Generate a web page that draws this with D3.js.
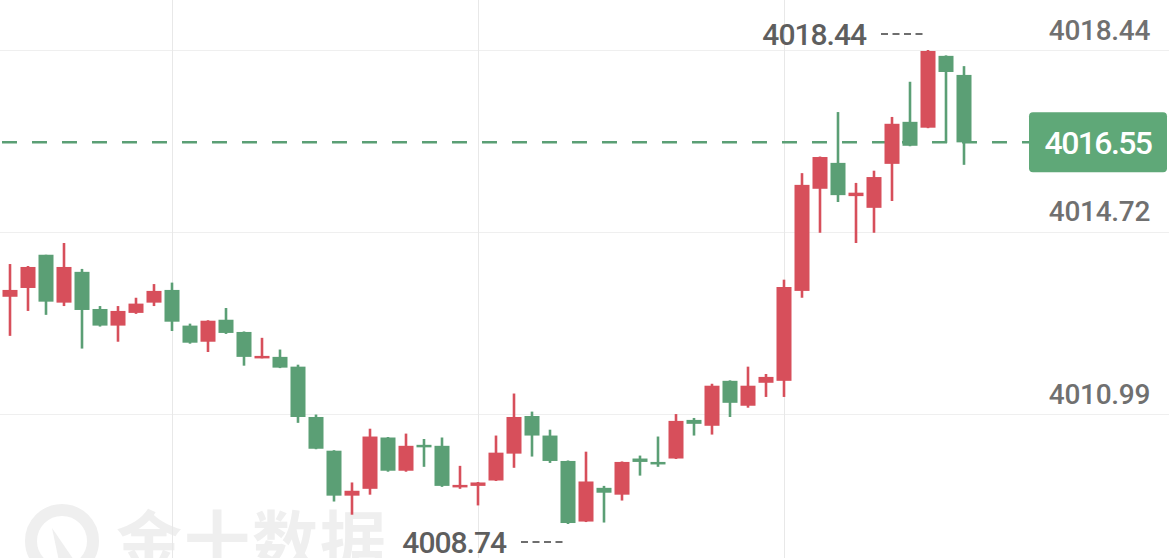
<!DOCTYPE html>
<html>
<head>
<meta charset="utf-8">
<script src="https://cdn.jsdelivr.net/npm/d3@7"></script>
<style>
  html, body { margin: 0; padding: 0; background: #ffffff; }
  svg { display: block; }
</style>
</head>
<body>
<svg id="chart" width="1169" height="558"></svg>
<script>
// ---------- DATA ----------
const candleIndex = d3.range(54);
const open = [4013.39,4013.57,4014.25,4013.27,4013.90,4013.14,4012.80,4013.06,4013.27,4013.53,
4012.80,4012.47,4012.92,4012.67,4012.14,4012.16,4011.96,4010.93,4010.24,4009.32,
4009.46,4010.51,4009.83,4010.36,4010.34,4009.50,4009.52,4009.63,4010.18,4010.95,
4010.55,4010.03,4008.79,4009.48,4009.34,4010.08,4010.01,4010.08,4010.87,4010.75,
4011.67,4011.16,4011.63,4011.67,4013.51,4015.60,4016.13,4015.45,4015.21,4016.11,
4016.97,4016.85,4018.32,4017.93];
const high = [4014.06,4014.02,4014.25,4014.49,4013.96,4013.20,4013.20,4013.37,4013.65,4013.68,
4012.84,4012.91,4013.16,4012.68,4012.55,4012.31,4012.00,4010.98,4010.25,4009.59,
4010.69,4010.52,4010.59,4010.48,4010.51,4009.93,4009.60,4010.55,4011.41,4011.04,
4010.67,4010.04,4010.22,4009.52,4010.02,4010.14,4010.53,4010.99,4010.91,4011.61,
4011.68,4011.96,4011.81,4013.74,4015.92,4016.26,4017.17,4015.72,4015.97,4017.07,
4017.79,4018.44,4018.33,4018.11];
const low = [4012.59,4013.10,4013.02,4013.20,4012.33,4012.78,4012.47,4013.04,4013.20,4012.69,
4012.43,4012.26,4012.63,4011.98,4012.13,4011.93,4010.81,4010.27,4009.20,4008.93,
4009.34,4009.81,4009.81,4009.91,4009.50,4009.46,4009.12,4009.62,4009.89,4010.12,
4009.99,4008.74,4008.78,4008.77,4009.22,4009.73,4009.91,4010.07,4010.55,4010.57,
4010.93,4011.12,4011.34,4011.34,4013.37,4014.70,4015.33,4014.49,4014.70,4015.35,
4016.47,4016.84,4016.54,4016.09];
const close = [4013.53,4014.00,4013.29,4014.00,4013.12,4012.80,4013.10,4013.25,4013.51,4012.88,
4012.45,4012.90,4012.65,4012.16,4012.18,4011.94,4010.93,4010.28,4009.32,4009.42,
4010.53,4009.83,4010.34,4010.32,4009.52,4009.54,4009.59,4010.20,4010.93,4010.55,
4010.03,4008.76,4009.61,4009.38,4010.01,4010.01,4009.99,4010.85,4010.79,4011.57,
4011.22,4011.57,4011.75,4013.59,4015.68,4016.25,4015.47,4015.52,4015.84,4016.93,
4016.48,4018.42,4017.99,4016.55];
const tickValues = [4018.44, 4014.72, 4010.99];
const tickLabels = ["4018.44", "4014.72", "4010.99"];
const verticalGridAt = [9, 26, 43];
const lastPrice = 4016.55;
const lastPriceLabel = "4016.55";
const watermarkText = "金十数据";

// ---------- STYLE ----------
const W = 1169, H = 558;
const UP = "#d74f5b", DOWN = "#5b9f75";
const svg = d3.select("#chart");

const x = d3.scaleLinear().domain([0, 53]).range([10, 964]);
const y = d3.scaleLinear().domain([4008.74, 4018.44]).range([524, 50]);
const bodyW = 15;

const data = candleIndex.map(i => ({i, o: open[i], h: high[i], l: low[i], c: close[i]}));

// watermark
const wm = svg.append("g").attr("fill", "#efefef");
wm.append("circle").attr("cx", 62).attr("cy", 541).attr("r", 31)
  .attr("fill", "none").attr("stroke", "#efefef").attr("stroke-width", 12);
wm.append("path").attr("d", "M52,528 L78,566 L60,566 Z");
wm.append("text").attr("x", 116).attr("y", 566)
  .attr("font-family", "'Noto Sans CJK SC'").attr("font-weight", 700)
  .attr("font-size", 66).attr("letter-spacing", 2).text(watermarkText);

// horizontal grid
svg.append("g").selectAll("line").data(tickValues).join("line")
  .attr("x1", 0).attr("x2", W)
  .attr("y1", d => Math.round(y(d)) + 0.5).attr("y2", d => Math.round(y(d)) + 0.5)
  .attr("stroke", "#efefef").attr("stroke-width", 1.2);

// vertical grid
svg.append("g").selectAll("line").data(verticalGridAt).join("line")
  .attr("x1", d => Math.round(x(d)) + 0.5).attr("x2", d => Math.round(x(d)) + 0.5)
  .attr("y1", 0).attr("y2", H)
  .attr("stroke", "#e8e8e8").attr("stroke-width", 1);

// right axis labels
const axis = d3.axisRight(y).tickValues(tickValues).tickFormat((d, k) => tickLabels[k]).tickSize(0);
const axG = svg.append("g").attr("transform", "translate(1150,0)").call(axis);
axG.select(".domain").remove();
axG.selectAll("text")
  .attr("x", 0).attr("dy", "-11px")
  .attr("text-anchor", "end")
  .attr("font-family", "Roboto").attr("font-weight", 500).attr("font-size", 28)
  .attr("letter-spacing", -0.3)
  .attr("fill", "#707070");

// current price dashed line
svg.append("line")
  .attr("x1", 2).attr("x2", 1029)
  .attr("y1", y(lastPrice)).attr("y2", y(lastPrice))
  .attr("stroke", DOWN).attr("stroke-width", 2.5)
  .attr("stroke-dasharray", "15,15");

// candles
const g = svg.append("g");
g.selectAll("line.wick").data(data).join("line").attr("class", "wick")
  .attr("x1", d => x(d.i)).attr("x2", d => x(d.i))
  .attr("y1", d => y(d.h)).attr("y2", d => y(d.l))
  .attr("stroke", d => d.c >= d.o ? UP : DOWN).attr("stroke-width", 2.6);
g.selectAll("rect.body").data(data).join("rect").attr("class", "body")
  .attr("x", d => x(d.i) - bodyW / 2).attr("width", bodyW)
  .attr("y", d => Math.min(y(d.o), y(d.c)))
  .attr("height", d => Math.max(2.5, Math.abs(y(d.o) - y(d.c))))
  .attr("fill", d => d.c >= d.o ? UP : DOWN);

// last price box
const boxY = y(lastPrice);
svg.append("rect").attr("x", 1029).attr("y", boxY - 30).attr("width", 138).attr("height", 60)
  .attr("rx", 4).attr("fill", "#5fa878");
svg.append("text").attr("x", 1098).attr("y", boxY + 11.5)
  .attr("text-anchor", "middle")
  .attr("font-family", "Roboto").attr("font-weight", 500).attr("font-size", 32)
  .attr("letter-spacing", -1.6)
  .attr("fill", "#ffffff").text(lastPriceLabel);

// max / min annotations
const maxI = d3.maxIndex(high), minI = d3.minIndex(low);
function annot(i, val, textBase, dashY) {
  const cx = x(i);
  svg.append("text").attr("x", cx - 62).attr("y", textBase)
    .attr("text-anchor", "end")
    .attr("font-family", "Roboto").attr("font-weight", 500).attr("font-size", 30).attr("letter-spacing", -1)
    .attr("fill", "#5e5e5e").text(d3.format(".2f")(val));
  svg.append("line").attr("x1", cx - 47).attr("x2", cx - 5)
    .attr("y1", dashY).attr("y2", dashY)
    .attr("stroke", "#6e6e6e").attr("stroke-width", 2)
    .attr("stroke-dasharray", "7,4.5");
}
annot(maxI, high[maxI], y(high[maxI]) - 5, y(high[maxI]) - 16);
annot(minI, low[minI], y(low[minI]) + 29, y(low[minI]) + 18);
</script>
</body>
</html>
